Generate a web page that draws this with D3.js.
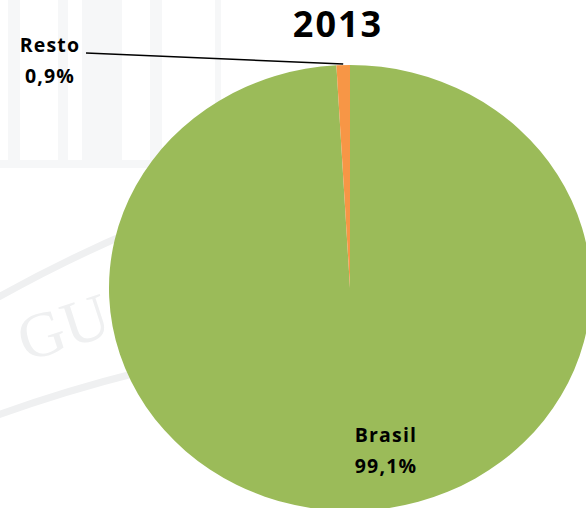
<html>
<head>
    <script src="https://cdnjs.cloudflare.com/ajax/libs/d3/7.8.5/d3.min.js"></script>
    <style>
        body { margin: 0; background: #ffffff; }
        svg { display: block; }
    </style>
</head>
<body>
    <script>

        // chart values
        var title = "2013";
        var categories = ["Brasil", "Resto"];
        var values = [99.1, 0.9];
        var labels = ["99,1%", "0,9%"];
        var colors = ["#9bbb59", "#f79646"];

        var width = 586;
        var height = 508;

        var cx = 350, cy = 288;
        var rx = 241, ry = 223;

        var svg = d3.select("body").append("svg")
            .attr("width", width)
            .attr("height", height);

        // faint watermark in the background
        var wm = svg.append("g").attr("class", "watermark");

        var cols = [[8, 12], [58, 10], [82, 40], [150, 12], [215, 6]];
        cols.forEach(function (c) {
            wm.append("rect")
                .attr("x", c[0]).attr("y", 0)
                .attr("width", c[1]).attr("height", 165)
                .attr("fill", "#f6f7f8");
        });
        wm.append("rect")
            .attr("x", 0).attr("y", 160)
            .attr("width", 240).attr("height", 8)
            .attr("fill", "#f6f7f8");

        wm.append("path")
            .attr("d", "M-10,302 Q60,262 140,228")
            .attr("fill", "none").attr("stroke", "#eff0f1").attr("stroke-width", 7);
        wm.append("path")
            .attr("d", "M-10,418 Q60,392 140,372")
            .attr("fill", "none").attr("stroke", "#eff0f1").attr("stroke-width", 7);
        wm.append("text")
            .attr("transform", "translate(26,362) rotate(-18)")
            .style("font-family", "Liberation Serif")
            .style("font-size", "64px")
            .style("fill", "#eff0f1")
            .text("GU");

        // pie
        var pie = d3.pie().sort(null).value(function (d) { return d; });
        var arcs = pie(values);

        var arc = d3.arc().innerRadius(0).outerRadius(rx);

        var pieGroup = svg.append("g")
            .attr("transform", "translate(" + cx + "," + cy + ") scale(1," + (ry / rx) + ")");

        pieGroup.selectAll("path")
            .data(arcs)
            .enter()
            .append("path")
            .attr("d", arc)
            .attr("fill", function (d, i) { return colors[i]; });

        // title
        svg.append("text")
            .attr("x", 338)
            .attr("y", 37)
            .attr("text-anchor", "middle")
            .style("font-family", "Open Sans")
            .style("font-weight", "bold")
            .style("font-size", "36px")
            .style("letter-spacing", "2px")
            .style("fill", "#000")
            .text(title);

        // labels
        var labelPos = [[386, 442], [50, 52]];

        categories.forEach(function (name, i) {
            var t = svg.append("text")
                .attr("x", labelPos[i][0])
                .attr("y", labelPos[i][1])
                .attr("text-anchor", "middle")
                .style("font-family", "Open Sans")
                .style("font-weight", "bold")
                .style("font-size", "19.5px")
                .style("letter-spacing", "1.2px")
                .style("fill", "#000");
            t.append("tspan").attr("x", labelPos[i][0]).text(name);
            t.append("tspan").attr("x", labelPos[i][0]).attr("dy", 30.5).text(labels[i]);
        });

        // leader line for Resto
        var resto = arcs[1];
        var mid = (resto.startAngle + resto.endAngle) / 2;
        var ex = cx + Math.sin(mid) * rx;
        var ey = cy - Math.cos(mid) * ry;

        svg.append("line")
            .attr("x1", 86).attr("y1", 53)
            .attr("x2", ex).attr("y2", ey - 1)
            .attr("stroke", "#000")
            .attr("stroke-width", 1.5);

    </script>
</body>
</html>
